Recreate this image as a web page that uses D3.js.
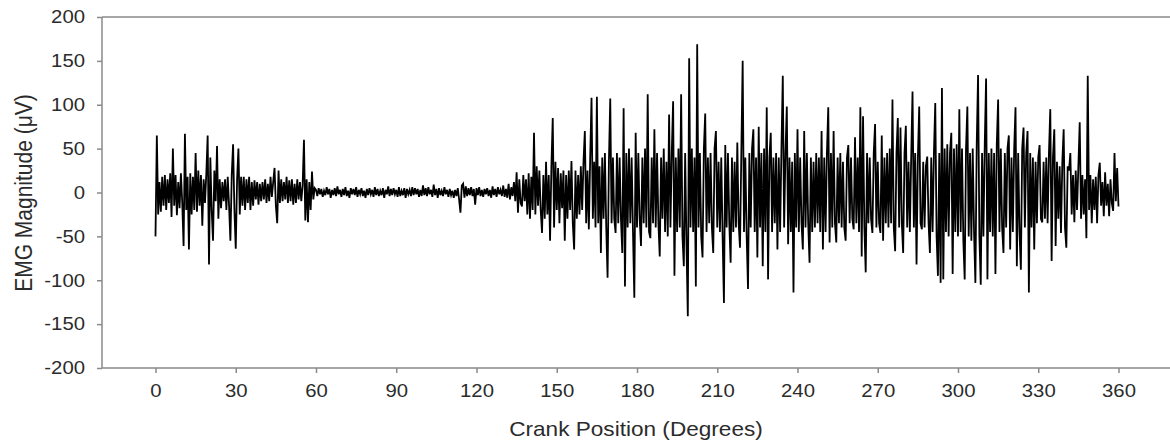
<!DOCTYPE html>
<html>
<head>
<meta charset="utf-8">
<script src="https://cdn.jsdelivr.net/npm/d3@7"></script>
<style>
  body { margin: 0; background: #fff; }
  svg { display: block; font-family: "Liberation Sans", Arial, sans-serif; }
  .axis path, .axis line { stroke: #8a8a8a; stroke-width: 1.5; }
  .axis text { fill: #2b2b2b; font-size: 18px; }
</style>
</head>
<body>
<svg id="chart" width="1170" height="443"></svg>
<script>
const sampleStep = 0.5;

// 0 - 59.5 deg : early burst
const emgStartA = 0;
const emgSegA = [
  -50, 65, -25, 12, -22, 18, -15, 20, -20, 15,
  -12, 22, -28, 50, -15, 20, -26, 12, -18, 22,
  -12, -61, 67, -20, 18, -65, 22, -25, 18, -20,
  45, -22, 25, -15, 20, -38, 15, -12, 22, 65,
  -82, 40, -20, -55, 25, -10, 53, -30, 15, -18,
  12, -10, 15, -20, 18, -15, -55, 20, 55, -20,
  -64, 15, 50, -25, 18, -15, 18, -20, 15, -12,
  18, -20, 12, -15, 14, -8, 12, -14, 10, -10,
  12, -8, 15, -12, 10, -10, 18, -5, 12, 28,
  -15, -35, 25, -12, 15, -10, 12, -8, 18, -12,
  14, -10, 15, -14, 10, -12, 15, -8, 12, -10,
  8, 60, -32, 15, -34, 12, -20, 24, -8, 5
];

// 60 - 136.5 deg : quiet phase
const emgStartB = 60;
const emgSegB = [
  3, -4, 5, -2, 4, -5, 2, -3, 6, -2,
  4, -6, 3, -3, 5, -4, 7, -2, 3, -5,
  4, -3, 6, -4, 2, -6, 5, -2, 4, -3,
  6, -5, 3, -2, 5, -4, 2, -6, 4, -3,
  5, -2, 3, -5, 6, -3, 4, -4, 2, -3,
  5, -6, 3, -2, 7, -4, 4, -3, 5, -2,
  3, -5, 6, -4, 2, -3, 5, -6, 4, -2,
  3, -4, 6, -3, 5, -2, 4, -5, 3, -4,
  8, -3, 5, -4, 6, -2, 3, -5, 9, -3,
  4, -6, 5, -3, 2, -4, 6, -2, 3, -5,
  4, -3, 2, -6, 3, -4, 5, -8, -23, 8,
  10, -6, 7, -4, 5, -3, 6, -4, 4, -14,
  5, -3, 6, -4, 3, -5, 4, -2, 5, -4,
  3, -6, 7, -3, 4, -5, 6, -2, 3, -4,
  8, -5, 4, -6, 10, -8, 6, -4, 12, -10,
  23, -23, 15, -12
];

// 137 - 360 deg : main activation
const emgStartC = 137;
const emgSegC = [
  -16, 20, -10, 15, -25, 22, -30, 18, -20, 68,
  -25, 30, -15, 25, -20, -46, 20, -30, 35, -25,
  20, -55, 30, 85, -40, 35, -20, 28, -35, 22,
  -18, 25, -55, 20, -30, 25, -20, 36, -35, -65,
  25, -30, 20, -25, 30, -20, 35, 70, -35, 25,
  -42, 40, 108, -30, 35, -40, 109, -35, 30, -69,
  40, -30, 45, -40, -97, 35, 107, -35, 40, -30,
  -46, 45, -35, 40, -30, -69, 96, -107, 45, -40,
  50, -35, 40, -45, -120, 68, -40, 45, -30, -61,
  40, -35, 50, -40, 112, -45, -52, 40, -35, 72,
  -40, 45, -35, -73, 40, -30, 50, -45, 35, -50,
  89, -40, 45, 104, -95, 40, -45, 50, -40, 112,
  -50, -84, 45, -60, -141, 153, -40, 50, -45, 40,
  -107, 169, -40, 45, -50, -74, 50, 90, -45, 40,
  -35, 45, -40, -69, 50, 70, -40, 35, -45, 40,
  -50, -126, 54, -40, 45, -35, -80, 40, -45, 35,
  -40, 57, -35, -63, 45, 150, -45, 40, -50, -110,
  45, -40, 50, 72, -45, 40, -74, 75, -40, 45,
  -84, 50, -45, 97, -99, 40, 68, -45, 40, -35,
  45, -65, 40, -45, 50, 133, -40, 45, 98, -59,
  40, -45, 35, -114, 45, -40, 72, -45, 40, -35,
  -65, 70, -40, 45, -35, -80, 40, -45, 35, -40,
  45, -35, 40, -45, 70, -65, 40, -45, 45, 97,
  -57, 45, -40, 70, -35, -57, 40, -35, 45, -40,
  35, -40, -55, 40, 54, -35, 40, -30, -42, 63,
  -35, 40, -45, 97, -73, 87, -40, -91, 45, -35,
  40, -30, -46, 45, 78, -40, 35, -35, -46, 65,
  -55, 40, -35, 45, -40, 50, -35, 106, -40, -67,
  45, 85, -40, 74, -35, -69, 45, 76, -40, 35,
  -45, 40, 115, -40, 45, -82, 40, 98, -35, -42,
  35, -40, 30, 41, -35, -69, 40, -45, 45, 102,
  -50, -95, 45, -103, 119, -99, 50, -45, 55, -50,
  45, 68, -93, 50, -45, 55, -50, 95, -45, 50,
  -55, -99, 50, 98, -50, 45, -55, 50, -45, -103,
  55, 134, -50, -105, 45, -50, 55, 130, -99, 45,
  -45, 50, -50, 45, -93, 55, 106, -45, 50, -40,
  -69, 45, -40, 50, 65, -65, 40, -45, 50, 97,
  -84, 45, -45, -88, 50, 74, -40, 45, 70, -114,
  45, -40, 40, -65, 35, -35, 40, 54, -30, -34,
  35, -30, 40, -35, 45, 95, -78, 40, 72, -61,
  35, -30, 30, -46, 35, 72, -40, -63, 30, 25,
  45, -25, 20, -34, 25, -20, 30, 80, -30, 20,
  -25, 15, -52, 133, -20, 20, -35, 15, -20, 18,
  -35, 20, 34, -15, 12, -27, 23, -15, 10, -27,
  15, -12, -21, 45, -10, 28,
  -16
];

const xTickValues = [0, 30, 60, 90, 120, 150, 180, 210, 240, 270, 300, 330, 360];
const yTickValues = [-200, -150, -100, -50, 0, 50, 100, 150, 200];
const xTitle = "Crank Position (Degrees)";
const yTitle = "EMG Magnitude (μV)";

// build points (deg, value) from the segments
function toPoints(start, vals) {
  return vals.map((v, i) => ({ deg: start + i * sampleStep, val: v }));
}
const emgPoints = [].concat(
  toPoints(emgStartA, emgSegA),
  toPoints(emgStartB, emgSegB),
  toPoints(emgStartC, emgSegC)
);

const svg = d3.select("#chart");
const plotLeft = 102, plotTop = 17, plotBottom = 368, plotRight = 1172;

// the source picture is a bit wider than tall, so text is stretched a little
const stretch = 1.13;

const x = d3.scaleLinear().domain([-20, 380]).range([plotLeft, plotRight]);
const y = d3.scaleLinear().domain([-200, 200]).range([plotBottom, plotTop]);

// plain hyphen minus like the original, not the unicode minus
const plainNum = d => String(d);

// top frame line
svg.append("line")
  .attr("x1", plotLeft).attr("x2", plotRight)
  .attr("y1", plotTop).attr("y2", plotTop)
  .attr("stroke", "#8a8a8a").attr("stroke-width", 1.5);

const xAxis = svg.append("g")
  .attr("class", "axis")
  .attr("transform", `translate(0,${plotBottom})`)
  .call(d3.axisBottom(x).tickValues(xTickValues).tickFormat(plainNum)
    .tickSize(5).tickPadding(11).tickSizeOuter(0));

const yAxis = svg.append("g")
  .attr("class", "axis")
  .attr("transform", `translate(${plotLeft},0)`)
  .call(d3.axisLeft(y).tickValues(yTickValues).tickFormat(plainNum)
    .tickSize(5).tickPadding(12).tickSizeOuter(0));

// fix the domain paths so they don't stick out
xAxis.select(".domain").attr("d", `M${plotLeft},0H${plotRight}`);
yAxis.select(".domain").attr("d", `M0,${plotTop}V${plotBottom}`);

// stretch the tick labels horizontally around their anchor
xAxis.selectAll(".tick text").attr("transform", `scale(${stretch},1)`);
yAxis.selectAll(".tick text")
  .attr("x", -17 / stretch)
  .attr("transform", `scale(${stretch},1)`);

// the signal
const line = d3.line()
  .x(d => x(d.deg))
  .y(d => y(d.val));

svg.append("path")
  .datum(emgPoints)
  .attr("fill", "none")
  .attr("stroke", "#000")
  .attr("stroke-width", 1.8)
  .attr("stroke-linejoin", "miter")
  .attr("d", line);

// axis titles
svg.append("text")
  .attr("transform", `translate(636,436) scale(${stretch},1)`)
  .attr("text-anchor", "middle")
  .attr("fill", "#2b2b2b")
  .style("font-size", "20px")
  .text(xTitle);

svg.append("text")
  .attr("transform", `translate(32,193) scale(${stretch},1) rotate(-90)`)
  .attr("text-anchor", "middle")
  .attr("fill", "#2b2b2b")
  .style("font-size", "21px")
  .text(yTitle);
</script>
</body>
</html>
